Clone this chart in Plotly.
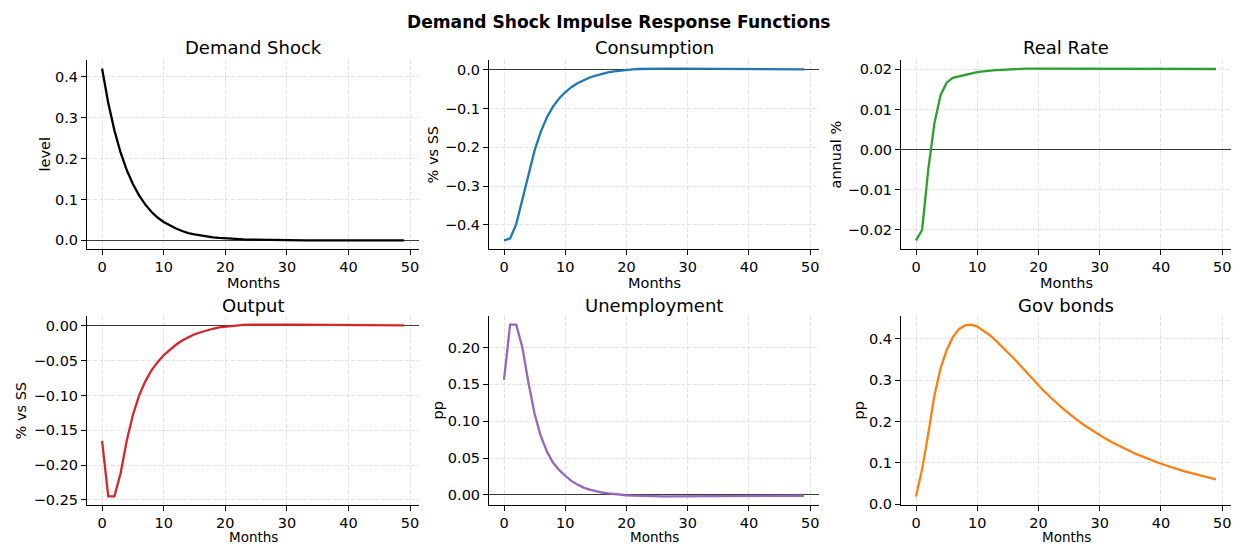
import plotly.graph_objects as go

# Impulse responses to a demand shock, monthly horizon
months = list(range(50))

demand_shock = [0.420, 0.336, 0.269, 0.215, 0.172, 0.138, 0.110, 0.088, 0.070, 0.056,
                0.045, 0.036, 0.029, 0.023, 0.018, 0.015, 0.012, 0.009, 0.0075, 0.006,
                0.0048, 0.0038, 0.003, 0.0024, 0.002, 0.0016, 0.0013, 0.001, 0.0008, 0.0006,
                0.0005, 0.0004, 0.0003, 0.0003, 0.0002, 0.0002, 0.0001, 0.0001, 0.0001, 0.0,
                0.0, 0.0, 0.0, 0.0, 0.0, 0.0, 0.0, 0.0, 0.0, 0.0]

consumption = [-0.440, -0.435, -0.398, -0.335, -0.268, -0.208, -0.160, -0.123, -0.095, -0.074,
               -0.058, -0.045, -0.035, -0.027, -0.020, -0.015, -0.010, -0.007, -0.004, -0.002,
               0.000, 0.001, 0.002, 0.0025, 0.003, 0.003, 0.003, 0.003, 0.003, 0.003,
               0.003, 0.003, 0.0029, 0.0028, 0.0027, 0.0026, 0.0025, 0.0024, 0.0023, 0.0022,
               0.0021, 0.0020, 0.0019, 0.0018, 0.0017, 0.0016, 0.0015, 0.0014, 0.0013, 0.0012]

real_rate = [-0.0226, -0.0200, -0.0050, 0.0065, 0.0135, 0.0167, 0.0179, 0.0183, 0.0186, 0.0190,
             0.0193, 0.0195, 0.0197, 0.0198, 0.0199, 0.0200, 0.0201, 0.0201, 0.0202, 0.0202,
             0.0202, 0.0202, 0.0202, 0.0202, 0.0202, 0.0202, 0.0202, 0.0202, 0.0202, 0.0202,
             0.0202, 0.0202, 0.0202, 0.0202, 0.0202, 0.0201, 0.0201, 0.0201, 0.0201, 0.0201,
             0.0201, 0.0201, 0.0201, 0.0201, 0.0201, 0.0201, 0.0201, 0.0201, 0.0201, 0.0201]

output = [-0.165, -0.245, -0.245, -0.212, -0.165, -0.128, -0.100, -0.080, -0.064, -0.052,
          -0.042, -0.034, -0.027, -0.021, -0.016, -0.012, -0.009, -0.006, -0.004, -0.002,
          -0.001, 0.000, 0.001, 0.0015, 0.0018, 0.002, 0.002, 0.002, 0.002, 0.002,
          0.002, 0.002, 0.0019, 0.0019, 0.0018, 0.0018, 0.0017, 0.0016, 0.0016, 0.0015,
          0.0015, 0.0014, 0.0014, 0.0013, 0.0013, 0.0012, 0.0012, 0.0011, 0.0011, 0.0010]

unemployment = [0.156, 0.231, 0.231, 0.200, 0.152, 0.110, 0.080, 0.059, 0.044, 0.034,
                0.026, 0.019, 0.014, 0.010, 0.0072, 0.0050, 0.0033, 0.0020, 0.0010, 0.0002,
                -0.0004, -0.0009, -0.0013, -0.0016, -0.0018, -0.0019, -0.0020, -0.0020, -0.0020, -0.0020,
                -0.0020, -0.0020, -0.0019, -0.0019, -0.0018, -0.0018, -0.0017, -0.0017, -0.0016, -0.0016,
                -0.0015, -0.0015, -0.0014, -0.0014, -0.0013, -0.0013, -0.0012, -0.0012, -0.0011, -0.0011]

gov_bonds = [0.019, 0.085, 0.170, 0.262, 0.328, 0.372, 0.403, 0.423, 0.432, 0.434,
             0.429, 0.420, 0.409, 0.396, 0.382, 0.367, 0.352, 0.336, 0.320, 0.303,
             0.287, 0.272, 0.258, 0.244, 0.231, 0.219, 0.207, 0.196, 0.186, 0.176,
             0.167, 0.158, 0.150, 0.142, 0.135, 0.128, 0.121, 0.115, 0.109, 0.103,
             0.098, 0.093, 0.088, 0.083, 0.079, 0.075, 0.071, 0.067, 0.063, 0.060]

panel_titles = ["Demand Shock", "Consumption", "Real Rate", "Output", "Unemployment", "Gov bonds"]
panel_units = ["level", "% vs SS", "annual %", "% vs SS", "pp", "pp"]
panel_series = [demand_shock, consumption, real_rate, output, unemployment, gov_bonds]
panel_colors = ["#000000", "#1f77b4", "#2ca02c", "#d62728", "#9467bd", "#ff7f0e"]
panel_ytick_format = [".1f", ".1f", ".2f", ".2f", ".2f", ".1f"]
panel_ytick_step = [0.1, 0.1, 0.01, 0.05, 0.05, 0.1]
x_ticks = [0, 10, 20, 30, 40, 50]

W, H = 1236, 546
FONT = "DejaVu Sans"

# Plot-area boxes in pixels: (left, right, top, bottom)
boxes = [(87, 419, 60, 249), (489, 819, 60, 249), (901, 1231, 60, 249),
         (87, 419, 316, 505), (489, 819, 316, 505), (901, 1231, 316, 505)]
title_y = [47, 47, 47, 305, 305, 305]
ylabel_x = [44, 432, 835, 20, 437, 858]


def px(x):
    return x / W


def py(y):
    return 1 - y / H


fig = go.Figure()
annotations = []

for i, (series, color) in enumerate(zip(panel_series, panel_colors)):
    n = i + 1
    xa = "x" if n == 1 else f"x{n}"
    ya = "y" if n == 1 else f"y{n}"
    left, right, top, bottom = boxes[i]
    xc = px((left + right) / 2)

    fig.add_trace(go.Scatter(x=months, y=series, mode="lines",
                             line=dict(color=color, width=2.3),
                             xaxis=xa, yaxis=ya, showlegend=False, hoverinfo="skip"))

    lo, hi = min(series), max(series)
    pad = 0.05 * (hi - lo)
    xpad = 0.05 * (months[-1] - months[0])

    axis_common = dict(showline=True, linecolor="#000000", linewidth=1, mirror=False,
                       ticks="outside", ticklen=5, tickwidth=1, tickcolor="#000000",
                       showgrid=True, gridcolor="#e3e3e3", gridwidth=1, griddash="4px,2px",
                       automargin=False,
                       tickfont=dict(family=FONT, size=14.5, color="#000000"))

    fig.update_layout(**{
        ("xaxis" if n == 1 else f"xaxis{n}"): dict(
            axis_common, domain=[px(left), px(right)], anchor=ya,
            range=[months[0] - xpad, months[-1] + xpad],
            tickvals=x_ticks, zeroline=False),
        ("yaxis" if n == 1 else f"yaxis{n}"): dict(
            axis_common, domain=[py(bottom), py(top)], anchor=xa,
            range=[lo - pad, hi + pad], dtick=panel_ytick_step[i], tick0=0,
            tickformat=panel_ytick_format[i],
            zeroline=True, zerolinecolor="#3a3a3a", zerolinewidth=1),
    })

    # Panel title
    annotations.append(dict(text=panel_titles[i], x=xc, y=py(title_y[i]),
                            xref="paper", yref="paper", showarrow=False,
                            xanchor="center", yanchor="middle",
                            font=dict(family=FONT, size=18, color="#000000")))
    # X label (bottom row sits against the lower edge of the figure)
    if i < 3:
        annotations.append(dict(text="Months", x=xc, y=py(bottom + 34),
                                xref="paper", yref="paper", showarrow=False,
                                xanchor="center", yanchor="middle",
                                font=dict(family=FONT, size=14.5, color="#000000")))
    else:
        annotations.append(dict(text="Months", x=xc, y=0, borderpad=0,
                                xref="paper", yref="paper", showarrow=False,
                                xanchor="center", yanchor="bottom",
                                font=dict(family=FONT, size=13.5, color="#000000")))
    # Y label
    annotations.append(dict(text=panel_units[i], x=px(ylabel_x[i]), y=py((top + bottom) / 2),
                            xref="paper", yref="paper", showarrow=False, textangle=-90,
                            xanchor="center", yanchor="middle",
                            font=dict(family=FONT, size=14.5, color="#000000")))

annotations.append(dict(text="<b>Demand Shock Impulse Response Functions</b>",
                        x=px(619), y=py(22), xref="paper", yref="paper", showarrow=False,
                        xanchor="center", yanchor="middle",
                        font=dict(family=FONT, size=17.1, color="#000000")))

fig.update_layout(width=W, height=H, autosize=False,
                  margin=dict(l=0, r=0, t=0, b=0, autoexpand=False),
                  paper_bgcolor="white", plot_bgcolor="white",
                  annotations=annotations)

fig.write_html("out.html")
